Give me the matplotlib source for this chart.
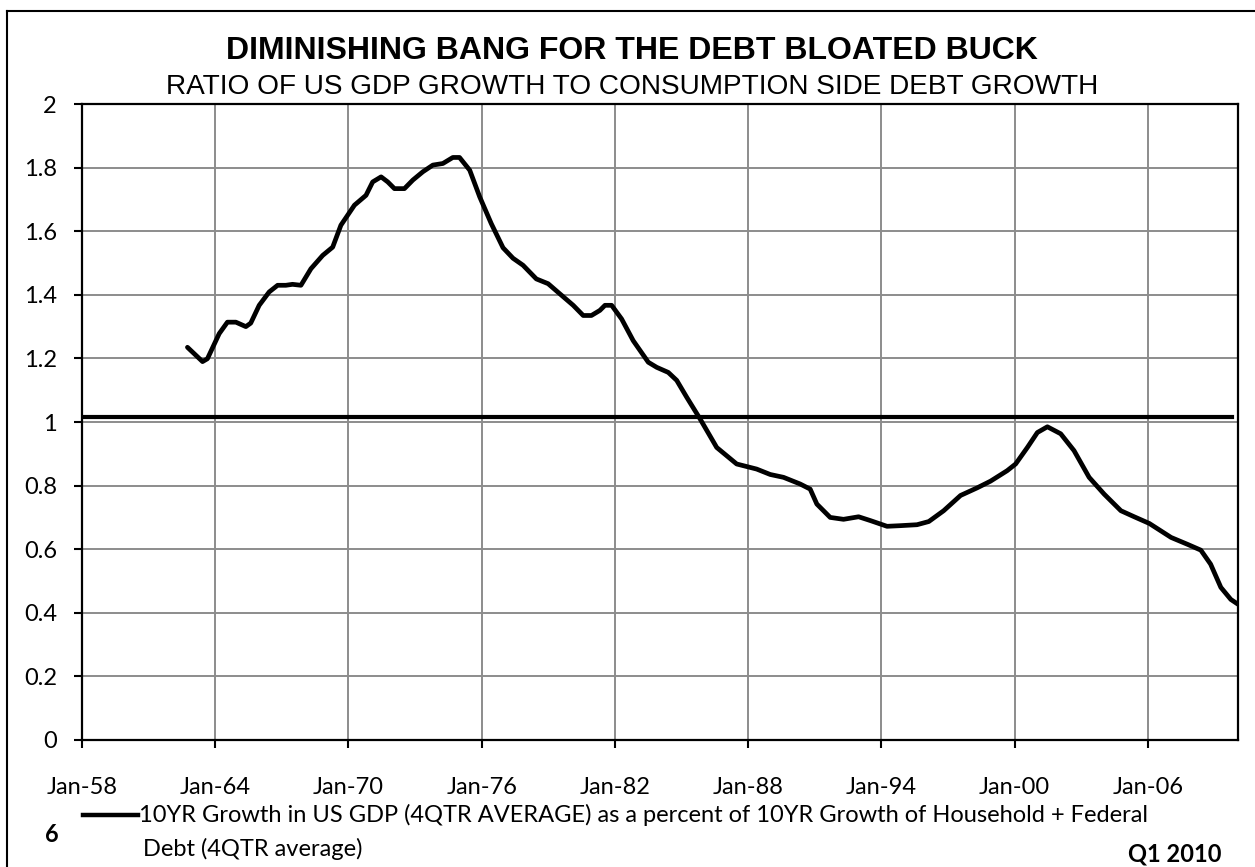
import matplotlib
matplotlib.use("Agg")
import matplotlib.pyplot as plt
from matplotlib.lines import Line2D
import numpy as np

# values (decimal year, ratio)
years = [1962.75, 1963.43, 1963.65, 1964.18, 1964.55, 1964.93, 1965.38, 1965.6, 1965.98, 1966.43,
         1966.81, 1967.18, 1967.48, 1967.86, 1968.31, 1968.84, 1969.29, 1969.66, 1970.27, 1970.79,
         1971.09, 1971.47, 1971.77, 1972.07, 1972.52, 1972.9, 1973.35, 1973.8, 1974.25, 1974.7,
         1975.0, 1975.46, 1975.91, 1976.43, 1976.96, 1977.41, 1977.86, 1978.46, 1978.99, 1979.52,
         1980.12, 1980.57, 1980.94, 1981.32, 1981.55, 1981.85, 1982.3, 1982.82, 1983.5, 1983.88,
         1984.4, 1984.78, 1985.23, 1985.83, 1986.58, 1987.48, 1988.38, 1988.99, 1989.59, 1990.34,
         1990.79, 1991.09, 1991.69, 1992.29, 1992.97, 1993.5, 1994.25, 1994.85, 1995.6, 1996.13,
         1996.8, 1997.56, 1998.31, 1998.91, 1999.66, 2000.04, 2000.57, 2001.02, 2001.47, 2002.07,
         2002.67, 2003.35, 2004.03, 2004.78, 2005.38, 2006.06, 2007.04, 2007.79, 2008.38, 2008.82,
         2009.28, 2009.73, 2010.05]
ratio = [1.235, 1.19, 1.199, 1.278, 1.314, 1.314, 1.30, 1.311, 1.367, 1.409,
         1.43, 1.43, 1.433, 1.43, 1.482, 1.524, 1.55, 1.619, 1.682, 1.713,
         1.755, 1.771, 1.755, 1.734, 1.734, 1.761, 1.787, 1.808, 1.813, 1.832,
         1.832, 1.792, 1.708, 1.624, 1.548, 1.515, 1.493, 1.45, 1.435, 1.403,
         1.367, 1.335, 1.335, 1.351, 1.367, 1.367, 1.324, 1.256, 1.188, 1.172,
         1.156, 1.131, 1.078, 1.01, 0.92, 0.868, 0.852, 0.835, 0.826, 0.805,
         0.789, 0.742, 0.70, 0.694, 0.702, 0.69, 0.672, 0.674, 0.677, 0.687,
         0.721, 0.769, 0.793, 0.814, 0.847, 0.868, 0.92, 0.967, 0.985, 0.963,
         0.91, 0.826, 0.773, 0.721, 0.702, 0.681, 0.637, 0.615, 0.597, 0.553,
         0.48, 0.442, 0.427]
avg_level = 1.016
avg_span = [1958, 2009.8]

tick_years = [1958, 1964, 1970, 1976, 1982, 1988, 1994, 2000, 2006]
tick_labels = ["Jan-58", "Jan-64", "Jan-70", "Jan-76", "Jan-82", "Jan-88", "Jan-94", "Jan-00", "Jan-06"]
y_ticks = [0, 0.2, 0.4, 0.6, 0.8, 1, 1.2, 1.4, 1.6, 1.8, 2]
y_labels = ["0", "0.2", "0.4", "0.6", "0.8", "1", "1.2", "1.4", "1.6", "1.8", "2"]

title = "DIMINISHING BANG FOR THE DEBT BLOATED BUCK"
subtitle = "RATIO OF US GDP GROWTH TO CONSUMPTION SIDE DEBT GROWTH"
legend_line1 = "10YR Growth in US GDP (4QTR AVERAGE) as a percent of 10YR Growth of Household + Federal"
legend_line2 = "Debt (4QTR average)"

lab_font = "Lato"
fs = 17

fig = plt.figure(figsize=(12.55, 8.67), dpi=100)
ax = fig.add_axes([0.0653, 0.1465, 0.9211, 0.7335])

ax.plot(years, ratio, color="black", lw=3.4, solid_joinstyle="round", solid_capstyle="round", zorder=3)
ax.plot(avg_span, [avg_level, avg_level], color="black", lw=3.0, zorder=3)

ax.set_xlim(1958, 2010.05)
ax.set_ylim(0, 2)
ax.set_xticks(tick_years)
ax.set_xticklabels(tick_labels, fontfamily=lab_font, fontsize=fs)
ax.set_yticks(y_ticks)
ax.set_yticklabels(y_labels, fontfamily=lab_font, fontsize=fs)
ax.tick_params(axis="both", direction="out", length=6, width=1.5, color="black")
ax.tick_params(axis="x", pad=21)
ax.tick_params(axis="y", pad=12)
ax.grid(True, color="#8c8c8c", lw=1.4)
ax.set_axisbelow(True)
for s in ax.spines.values():
    s.set_linewidth(1.6)
    s.set_color("black")

fig.text(0.5036, 1 - 51 / 867, title, ha="center", va="center", fontfamily="Liberation Sans",
         fontweight="bold", fontsize=23)
fig.text(0.5036, 1 - 87 / 867, subtitle, ha="center", va="center", fontfamily="Liberation Sans",
         fontsize=20.2)

# legend below the axis
fig.add_artist(Line2D([83 / 1255, 138 / 1255], [1 - 815 / 867, 1 - 815 / 867], color="black", lw=3.2))
fig.text(139 / 1255, 1 - 815 / 867, legend_line1, ha="left", va="center", fontfamily=lab_font, fontsize=fs)
fig.text(143 / 1255, 1 - 849 / 867, legend_line2, ha="left", va="center", fontfamily=lab_font, fontsize=fs)
fig.text(52 / 1255, 1 - 835 / 867, "6", ha="center", va="center", fontfamily=lab_font,
         fontweight="bold", fontsize=fs)
fig.text(1222 / 1255, 1 - 854 / 867, "Q1 2010", ha="right", va="center", fontfamily=lab_font,
         fontweight="bold", fontsize=fs)

# outer frame (left and top edges)
fig.add_artist(Line2D([7 / 1255, 7 / 1255], [0, 1 - 11 / 867], color="black", lw=1.5))
fig.add_artist(Line2D([7 / 1255, 1], [1 - 11 / 867, 1 - 11 / 867], color="black", lw=1.5))

fig.savefig("out.png", dpi=100)
